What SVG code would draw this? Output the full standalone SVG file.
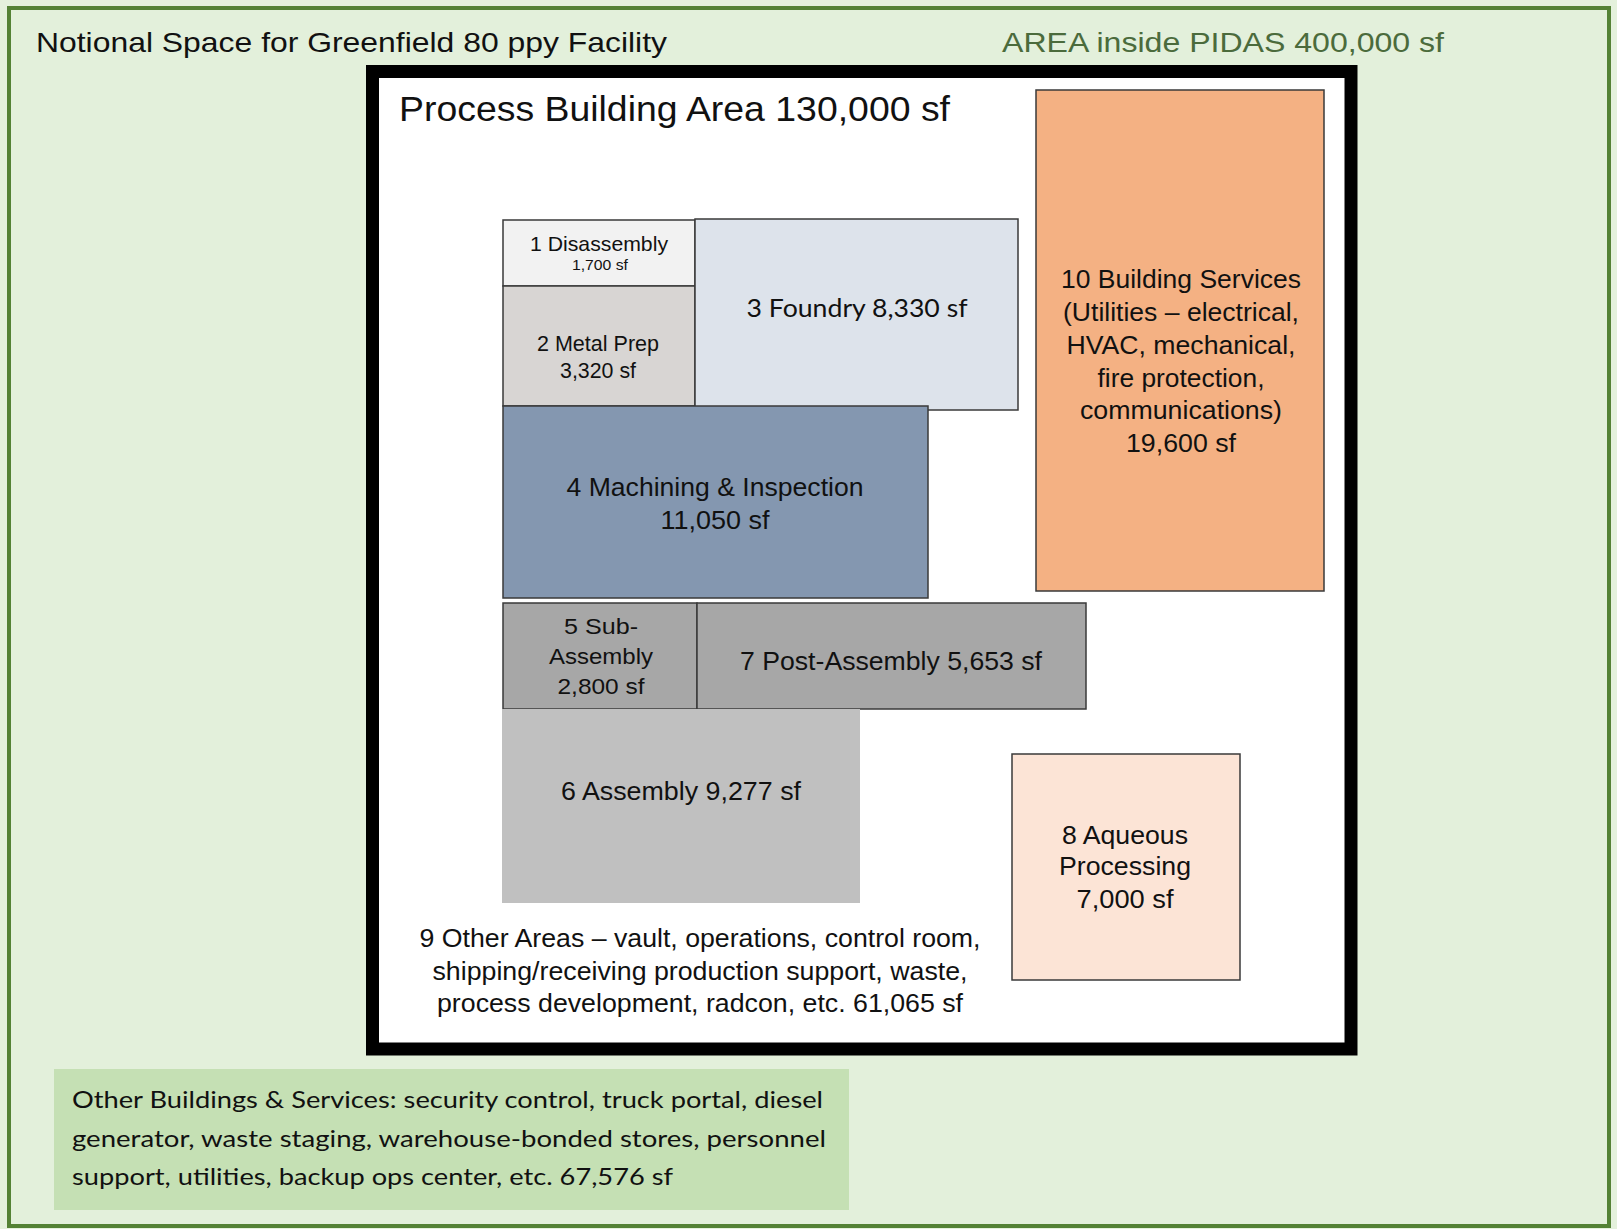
<svg xmlns="http://www.w3.org/2000/svg" width="1617" height="1229" viewBox="0 0 1617 1229">
<style>
.t{font-family:"Liberation Sans",Arial,sans-serif;fill:#111;}
.c{font-family:Lato,"Open Sans",sans-serif;fill:#111;}
.box{stroke:#3a3a3a;stroke-width:1.5;}
.m{text-anchor:middle;}
</style>
<rect x="0" y="0" width="1617" height="1229" fill="#e4f1dc"/>
<rect x="9" y="8" width="1600" height="1218" fill="#e3f0db" stroke="#548235" stroke-width="4"/>
<g id="title">
<text class="t" x="36" y="52" font-size="28" textLength="631" lengthAdjust="spacingAndGlyphs">Notional Space for Greenfield 80 ppy Facility</text>
</g>
<g id="pidas">
<text class="t" x="1002" y="52" font-size="28" style="fill:#4b6b3c" textLength="442" lengthAdjust="spacingAndGlyphs">AREA inside PIDAS 400,000 sf</text>
</g>
<g id="process-building">
<rect x="372.5" y="71.5" width="978.5" height="977.5" fill="#ffffff" stroke="#000" stroke-width="13"/>
<text class="t" x="399" y="121" font-size="35" textLength="551" lengthAdjust="spacingAndGlyphs">Process Building Area 130,000 sf</text>
</g>
<g id="n1">
<rect class="box" x="503" y="220" width="192" height="66" fill="#f2f2f2"/>
<text class="t m" x="599" y="251" font-size="21" textLength="138" lengthAdjust="spacingAndGlyphs">1 Disassembly</text>
<text class="t m" x="600" y="270" font-size="14" textLength="56" lengthAdjust="spacingAndGlyphs">1,700 sf</text>
</g>
<g id="n2">
<rect class="box" x="503" y="286" width="192" height="120" fill="#d8d5d3"/>
<text class="t m" x="598" y="351" font-size="22" textLength="122" lengthAdjust="spacingAndGlyphs">2 Metal Prep</text>
<text class="t m" x="598" y="378" font-size="22" textLength="76" lengthAdjust="spacingAndGlyphs">3,320 sf</text>
</g>
<g id="n3">
<rect class="box" x="695" y="219" width="323" height="191" fill="#dde3eb"/>
<text class="c m" x="857" y="317" font-size="25" textLength="221" lengthAdjust="spacingAndGlyphs">3 Foundry 8,330 sf</text>
</g>
<g id="n4">
<rect class="box" x="503" y="406" width="425" height="192" fill="#8497b0"/>
<text class="t m" x="715" y="496" font-size="26" textLength="297" lengthAdjust="spacingAndGlyphs">4 Machining &amp; Inspection</text>
<text class="t m" x="715" y="529" font-size="26" textLength="109" lengthAdjust="spacingAndGlyphs">11,050 sf</text>
</g>
<g id="n5">
<rect class="box" x="503" y="603" width="194" height="106" fill="#a7a7a7"/>
<text class="t m" x="601" y="634" font-size="22" textLength="74" lengthAdjust="spacingAndGlyphs">5 Sub-</text>
<text class="t m" x="601" y="664" font-size="22" textLength="104" lengthAdjust="spacingAndGlyphs">Assembly</text>
<text class="t m" x="601" y="694" font-size="22" textLength="87" lengthAdjust="spacingAndGlyphs">2,800 sf</text>
</g>
<g id="n7">
<rect class="box" x="697" y="603" width="389" height="106" fill="#a7a7a7"/>
<text class="t m" x="891" y="670" font-size="26" textLength="302" lengthAdjust="spacingAndGlyphs">7 Post-Assembly 5,653 sf</text>
</g>
<g id="n6">
<rect x="502" y="709" width="358" height="194" fill="#c0c0c0"/>
<text class="t m" x="681" y="800" font-size="26" textLength="240" lengthAdjust="spacingAndGlyphs">6 Assembly 9,277 sf</text>
</g>
<g id="n10">
<rect class="box" x="1036" y="90" width="288" height="501" fill="#f4b183"/>
<text class="t m" x="1181" y="288" font-size="26" textLength="240" lengthAdjust="spacingAndGlyphs">10 Building Services</text>
<text class="t m" x="1181" y="321" font-size="26" textLength="236" lengthAdjust="spacingAndGlyphs">(Utilities – electrical,</text>
<text class="t m" x="1181" y="354" font-size="26" textLength="229" lengthAdjust="spacingAndGlyphs">HVAC, mechanical,</text>
<text class="t m" x="1181" y="387" font-size="26" textLength="167" lengthAdjust="spacingAndGlyphs">fire protection,</text>
<text class="t m" x="1181" y="419" font-size="26" textLength="202" lengthAdjust="spacingAndGlyphs">communications)</text>
<text class="t m" x="1181" y="452" font-size="26" textLength="110" lengthAdjust="spacingAndGlyphs">19,600 sf</text>
</g>
<g id="n8">
<rect class="box" x="1012" y="754" width="228" height="226" fill="#fce4d6"/>
<text class="t m" x="1125" y="844" font-size="26" textLength="126" lengthAdjust="spacingAndGlyphs">8 Aqueous</text>
<text class="t m" x="1125" y="875" font-size="26" textLength="132" lengthAdjust="spacingAndGlyphs">Processing</text>
<text class="t m" x="1125" y="908" font-size="26" textLength="97" lengthAdjust="spacingAndGlyphs">7,000 sf</text>
</g>
<g id="n9">
<text class="t m" x="700" y="947" font-size="26" textLength="561" lengthAdjust="spacingAndGlyphs">9 Other Areas – vault, operations, control room,</text>
<text class="t m" x="700" y="980" font-size="26" textLength="535" lengthAdjust="spacingAndGlyphs">shipping/receiving production support, waste,</text>
<text class="t m" x="700" y="1012" font-size="26" textLength="526" lengthAdjust="spacingAndGlyphs">process development, radcon, etc. 61,065 sf</text>
</g>
<g id="other-buildings">
<rect x="54" y="1069" width="795" height="141" fill="#c5e0b4"/>
<text class="c" x="72" y="1108" font-size="24" textLength="751" lengthAdjust="spacingAndGlyphs">Other Buildings &amp; Services: security control, truck portal, diesel</text>
<text class="c" x="72" y="1147" font-size="24" textLength="754" lengthAdjust="spacingAndGlyphs">generator, waste staging, warehouse-bonded stores, personnel</text>
<text class="c" x="72" y="1185" font-size="24" textLength="601" lengthAdjust="spacingAndGlyphs">support, utilities, backup ops center, etc. 67,576 sf</text>
</g>
<g id="connectors"></g>
</svg>
